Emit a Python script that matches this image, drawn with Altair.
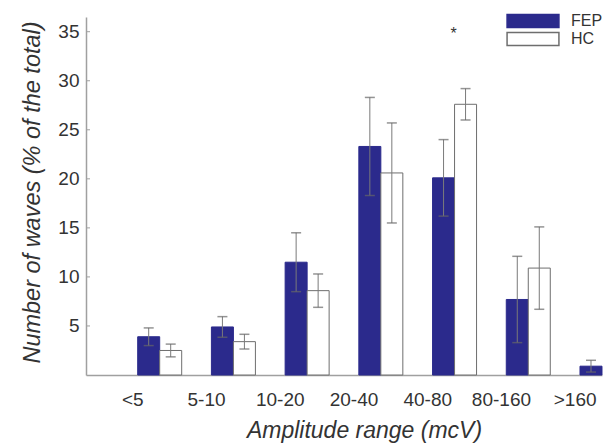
import altair as alt
import pandas as pd

# Amplitude bins and group statistics (mean and error, % of the total waves)
categories = ["<5", "5-10", "10-20", "20-40", "40-80", "80-160", ">160"]
fep_mean = [3.9, 4.9, 11.5, 23.3, 20.1, 7.7, 0.9]
fep_err = [0.9, 1.05, 3.0, 5.0, 3.9, 4.4, 0.6]
hc_mean = [2.5, 3.4, 8.6, 20.6, 27.6, 10.9, None]
hc_err = [0.65, 0.75, 1.7, 5.1, 1.6, 4.2, None]
groups = ["FEP", "HC"]

# significance marker
sig_bins = ["40-80"]
sig_level = [35.0]

y_ticks = [5, 10, 15, 20, 25, 30, 35]

rows = []
for g, means, errs in (("FEP", fep_mean, fep_err), ("HC", hc_mean, hc_err)):
    for c, m, e in zip(categories, means, errs):
        if m is None:
            continue
        rows.append({"bin": c, "group": g, "mean": m, "lo": m - e, "hi": m + e})
df = pd.DataFrame(rows)
sig = pd.DataFrame({"bin": sig_bins, "y": sig_level, "t": ["*"] * len(sig_bins)})
ticks = pd.DataFrame({"v": y_ticks})

FONT = "Liberation Sans"
NAVY = "#2b2a8c"
GREY = "#7a7a7a"

x_scale = alt.Scale(domain=categories, paddingInner=0, paddingOuter=0)
y_scale = alt.Scale(domain=[0, 36.5], nice=False, zero=True)
off_scale = alt.Scale(domain=groups, range=[51.7, 95.7], paddingInner=0, paddingOuter=0)

base = alt.Chart(df)

bars = base.mark_bar(strokeWidth=1).encode(
    x=alt.X(
        "bin:N",
        scale=x_scale,
        sort=categories,
        axis=alt.Axis(
            title="Amplitude range (mcV)",
            labelAngle=0,
            labelPadding=15,
            labelOffset=10,
            ticks=False,
            tickSize=0,
            titlePadding=10,
            titleX=278,
        ),
    ),
    xOffset=alt.XOffset("group:N", scale=off_scale, sort=groups),
    y=alt.Y(
        "mean:Q",
        scale=y_scale,
        axis=alt.Axis(
            title="Number of waves (% of the total)",
            values=y_ticks,
            ticks=False,
            tickSize=0,
            labelPadding=7,
            titleX=-42,
            titleY=175,
            titleFontSize=23.5,
        ),
    ),
    fill=alt.Fill(
        "group:N",
        scale=alt.Scale(domain=groups, range=[NAVY, "#ffffff"]),
        legend=alt.Legend(
            title=None,
            orient="none",
            legendX=439,
            legendY=-4,
            symbolType="M-8,-2H8V2H-8Z",
            symbolSize=42,
            symbolStrokeWidth=1.5,
            labelFont=FONT,
            labelFontSize=16,
            labelColor="#333333",
            labelOffset=30,
            rowPadding=-4,
            padding=0,
        ),
    ),
    stroke=alt.Stroke(
        "group:N",
        scale=alt.Scale(domain=groups, range=[NAVY, "#6e6e6e"]),
        legend=None,
    ),
)

err = base.mark_rule(color=GREY, strokeWidth=1).encode(
    x=alt.X("bin:N", scale=x_scale, sort=categories, bandPosition=0.5),
    xOffset=alt.XOffset("group:N", scale=off_scale, sort=groups),
    y=alt.Y("lo:Q", scale=y_scale),
    y2="hi:Q",
)

caps_hi = base.mark_tick(color="#666666", thickness=1.5, size=10, orient="horizontal").encode(
    x=alt.X("bin:N", scale=x_scale, sort=categories, bandPosition=0.5),
    xOffset=alt.XOffset("group:N", scale=off_scale, sort=groups),
    y=alt.Y("hi:Q", scale=y_scale),
)
caps_lo = base.mark_tick(color="#666666", thickness=1.5, size=10, orient="horizontal").encode(
    x=alt.X("bin:N", scale=x_scale, sort=categories, bandPosition=0.5),
    xOffset=alt.XOffset("group:N", scale=off_scale, sort=groups),
    y=alt.Y("lo:Q", scale=y_scale),
)

star = alt.Chart(sig).mark_text(font=FONT, fontSize=16, color="#333333", baseline="middle", dx=-1, dy=2).encode(
    x=alt.X("bin:N", scale=x_scale, sort=categories, bandPosition=1),
    y=alt.Y("y:Q", scale=y_scale),
    text="t:N",
)

# small inward tick marks on the value axis
inner_ticks = alt.Chart(ticks).mark_rule(color="#a0a0a0", strokeWidth=1).encode(
    y=alt.Y("v:Q", scale=y_scale),
    x=alt.value(0),
    x2=alt.value(4),
)

chart = (
    alt.layer(bars, err, caps_hi, caps_lo, star, inner_ticks)
    .properties(
        width=516,
        height=358,
        autosize=alt.AutoSizeParams(type="none"),
        padding={"left": 86, "top": 17, "right": 13, "bottom": 72},
    )
    .configure_view(stroke=None)
    .configure_axis(
        domainColor="#a0a0a0",
        domainWidth=1.5,
        grid=False,
        labelFont=FONT,
        labelFontSize=19,
        labelColor="#333333",
        titleFont=FONT,
        titleFontSize=23,
        titleFontStyle="italic",
        titleFontWeight="normal",
        titleColor="#333333",
    )
)

chart.save("out.html", embed_options={"renderer": "svg", "actions": False})
